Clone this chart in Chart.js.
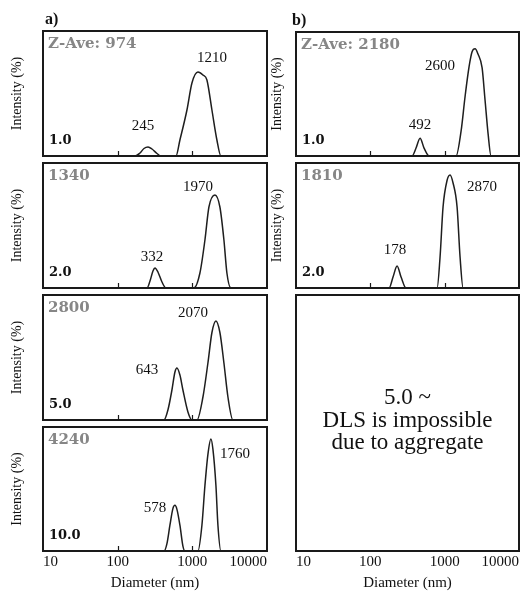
<!DOCTYPE html>
<html lang="en">
<head>
<meta charset="UTF-8">
<title>DLS size distributions</title>
<script src="https://cdn.jsdelivr.net/npm/chart.js"></script>
<style>
  body { margin: 0; background: #fff; }
  #wrap { position: relative; width: 521px; height: 592px; overflow: hidden; }
  #wrap canvas { position: absolute; }
</style>
</head>
<body>
<div id="wrap"></div>
<script>
// ticks on the diameter axis (nm)
const xTicks = [10, 100, 1000, 10000];

// a) column
const diamA1 = [10, 171, 199, 225, 255, 288, 336, 380, 603, 682, 847, 988, 1189, 1387, 1568, 1830, 2134, 2415, 10000];
const intenA1 = [0, 0, 0.6, 1.5, 1.8, 1.4, 0.5, 0, 0, 3.2, 9.2, 14.6, 16.8, 16.2, 15.2, 9.2, 3.2, 0, 0];
const diamA2 = [10, 247, 271, 297, 316, 346, 392, 443, 1050, 1264, 1475, 1668, 2008, 2340, 2649, 2904, 3287, 10000];
const intenA2 = [0, 0, 1.4, 3.4, 4, 3.2, 1.2, 0, 0, 3, 9.6, 16.2, 18.6, 16.2, 9.6, 3, 0, 0];
const diamA3 = [10, 417, 471, 533, 585, 622, 682, 748, 873, 988, 1152, 1387, 1617, 1830, 2070, 2340, 2649, 2998, 3497, 10000];
const intenA3 = [0, 0, 2, 6, 9.6, 10.4, 9, 6, 1.6, 0, 0, 4.6, 11.4, 17.5, 19.8, 17.5, 11.4, 4.6, 0, 0];
const diamA4 = [10, 417, 457, 501, 550, 585, 622, 682, 748, 796, 1189, 1344, 1475, 1617, 1774, 1888, 2070, 2202, 2415, 10000];
const intenA4 = [0, 0, 1.5, 5.2, 8.6, 9.2, 8.4, 5.2, 1, 0, 0, 5.2, 13.2, 19.5, 22.6, 20.5, 13.2, 5.2, 0, 0];

// b) column
const diamB1 = [10, 364, 412, 467, 528, 617, 1424, 1662, 1882, 2130, 2338, 2565, 2817, 3187, 3497, 3837, 4210, 10000];
const intenB1 = [0, 0, 1.6, 3.6, 1.6, 0, 0, 5, 12, 18, 21, 21.6, 20.5, 17.8, 11.2, 4.5, 0, 0];
const diamB2 = [10, 179, 202, 229, 259, 302, 791, 867, 951, 1076, 1182, 1297, 1469, 1611, 1770, 10000];
const intenB2 = [0, 0, 2.2, 4.4, 2.2, 0, 0, 6.2, 16.2, 21.5, 22.6, 21, 16.2, 6.2, 0, 0];

// sample concentrations and Z-average values
const concA = ['1.0', '2.0', '5.0', '10.0'];
const zaveA = ['Z-Ave: 974', '1340', '2800', '4240'];
const concB = ['1.0', '2.0'];
const zaveB = ['Z-Ave: 2180', '1810'];

// peak labels: text, and [diameter, intensity] where the label sits
const peakA1 = ['1210', '245'];
const peakPosA1 = [[1830, 19.6], [218, 6]];
const peakA2 = ['1970', '332'];
const peakPosA2 = [[1189, 20.2], [288, 6.2]];
const peakA3 = ['2070', '643'];
const peakPosA3 = [[1019, 21.4], [247, 10]];
const peakA4 = ['1760', '578'];
const peakPosA4 = [[3718, 19.6], [316, 8.6]];
const peakB1 = ['2600', '492'];
const peakPosB1 = [[867, 18.2], [467, 6.2]];
const peakB2 = ['2870', '178'];
const peakPosB2 = [[3187, 20.2], [215, 7.6]];

const noteB3 = ['5.0 ~', 'DLS is impossible', 'due to aggregate'];

const SERIF = "'Liberation Serif', 'Times New Roman', serif";
Chart.defaults.font.family = SERIF;

// frame, inner ticks and all the annotation text of a panel
const decor = {
  id: 'decor',
  afterDraw(chart, args, o) {
    const { ctx, chartArea: a, scales: { x, y } } = chart;
    ctx.save();
    ctx.strokeStyle = '#1a1a1a';
    ctx.lineWidth = 2;
    ctx.strokeRect(a.left, a.top, a.right - a.left, a.bottom - a.top);

    ctx.lineWidth = 1.2;
    (o.innerTicks || []).forEach(v => {
      const px = Math.round(x.getPixelForValue(v)) + 0.5;
      ctx.beginPath();
      ctx.moveTo(px, a.bottom);
      ctx.lineTo(px, a.bottom - 5);
      ctx.stroke();
    });

    ctx.fillStyle = '#111';
    ctx.textBaseline = 'middle';

    // rotated y title
    if (o.yTitle) {
      ctx.save();
      ctx.translate(a.left - o.yTitleDx, (a.top + a.bottom) / 2);
      ctx.rotate(-Math.PI / 2);
      ctx.textAlign = 'center';
      ctx.font = '14px ' + SERIF;
      ctx.fillText('Intensity (%)', 0, 0);
      ctx.restore();
    }

    if (o.letter) {
      ctx.textAlign = 'left';
      ctx.font = 'bold 16px ' + SERIF;
      ctx.fillText(o.letter, a.left + o.letterDx, a.top - 11);
    }

    if (o.zave) {
      ctx.textAlign = 'left';
      ctx.font = "bold 15px 'DejaVu Serif', serif";
      ctx.fillStyle = '#868686';
      ctx.fillText(o.zave, a.left + 5, a.top + 13);
      ctx.fillStyle = '#111';
    }

    if (o.conc) {
      ctx.textAlign = 'left';
      ctx.font = "bold 13px 'DejaVu Serif', serif";
      ctx.fillText(o.conc, a.left + 6, a.bottom - 15);
    }

    if (o.peaks) {
      ctx.textAlign = 'center';
      ctx.font = '15px ' + SERIF;
      o.peaks.forEach((t, i) => {
        const [d, v] = o.peakPos[i];
        ctx.fillText(t, x.getPixelForValue(d), y.getPixelForValue(v));
      });
    }

    if (o.note) {
      ctx.textAlign = 'center';
      ctx.font = '23px ' + SERIF;
      const cx = (a.left + a.right) / 2, cy = (a.top + a.bottom) / 2;
      o.note.forEach((t, i) => ctx.fillText(t, cx, cy - 25 + i * 22.5));
    }
    ctx.restore();
  }
};

function panel(box, diam, inten, bottomAxis, deco) {
  const cv = document.createElement('canvas');
  cv.width = box.w;
  cv.height = box.h;
  cv.style.left = box.left + 'px';
  cv.style.top = box.top + 'px';
  document.getElementById('wrap').appendChild(cv);

  const datasets = [];
  if (diam) {
    datasets.push({
      data: diam.map((d, i) => ({ x: d, y: inten[i] })),
      borderColor: '#1e1e1e',
      borderWidth: 1.5,
      pointRadius: 0,
      fill: false,
      cubicInterpolationMode: 'monotone'
    });
  }

  return new Chart(cv, {
    type: 'line',
    data: { datasets: datasets },
    options: {
      responsive: false,
      animation: false,
      events: [],
      layout: { padding: box.pad },
      scales: {
        x: {
          type: 'logarithmic',
          min: 10,
          max: 10000,
          display: bottomAxis,
          afterBuildTicks: s => { s.ticks = xTicks.map(v => ({ value: v })); },
          ticks: {
            align: 'inner', maxRotation: 0, autoSkip: false, padding: 2,
            color: '#111', font: { size: 15 },
            callback: v => String(v)
          },
          grid: { display: false, drawTicks: false },
          border: { display: false },
          title: {
            display: true, text: 'Diameter (nm)', color: '#111',
            font: { size: 15 }, padding: { top: 1, bottom: 0 }
          }
        },
        y: { min: 0, max: 25, display: false }
      },
      plugins: {
        legend: { display: false },
        tooltip: { enabled: false },
        decor: deco
      }
    },
    plugins: [decor]
  });
}

const padL = (top, bottom) => ({ left: 43, right: 25, top: top, bottom: bottom });
const padR = (top, bottom) => ({ left: 30, right: 2, top: top, bottom: bottom });

// left column
panel({ left: 0, top: 0, w: 292, h: 158, pad: padL(31, 2) }, diamA1, intenA1, false,
  { innerTicks: [100, 1000], yTitle: true, yTitleDx: 26, letter: 'a)', letterDx: 2,
    zave: zaveA[0], conc: concA[0], peaks: peakA1, peakPos: peakPosA1 });
panel({ left: 0, top: 161, w: 292, h: 129, pad: padL(2, 2) }, diamA2, intenA2, false,
  { innerTicks: [100, 1000], yTitle: true, yTitleDx: 26,
    zave: zaveA[1], conc: concA[1], peaks: peakA2, peakPos: peakPosA2 });
panel({ left: 0, top: 293, w: 292, h: 129, pad: padL(2, 2) }, diamA3, intenA3, false,
  { innerTicks: [100, 1000], yTitle: true, yTitleDx: 26,
    zave: zaveA[2], conc: concA[2], peaks: peakA3, peakPos: peakPosA3 });
panel({ left: 0, top: 425, w: 292, h: 167, pad: padL(2, 0) }, diamA4, intenA4, true,
  { innerTicks: [100, 1000], yTitle: true, yTitleDx: 26,
    zave: zaveA[3], conc: concA[3], peaks: peakA4, peakPos: peakPosA4 });

// right column
panel({ left: 266, top: 0, w: 255, h: 158, pad: padR(32, 2) }, diamB1, intenB1, false,
  { innerTicks: [100, 1000], yTitle: true, yTitleDx: 19, letter: 'b)', letterDx: -4,
    zave: zaveB[0], conc: concB[0], peaks: peakB1, peakPos: peakPosB1 });
panel({ left: 266, top: 161, w: 255, h: 129, pad: padR(2, 2) }, diamB2, intenB2, false,
  { innerTicks: [100, 1000], yTitle: true, yTitleDx: 19,
    zave: zaveB[1], conc: concB[1], peaks: peakB2, peakPos: peakPosB2 });
panel({ left: 266, top: 293, w: 255, h: 299, pad: padR(2, 0) }, null, null, true,
  { note: noteB3 });
</script>
</body>
</html>
